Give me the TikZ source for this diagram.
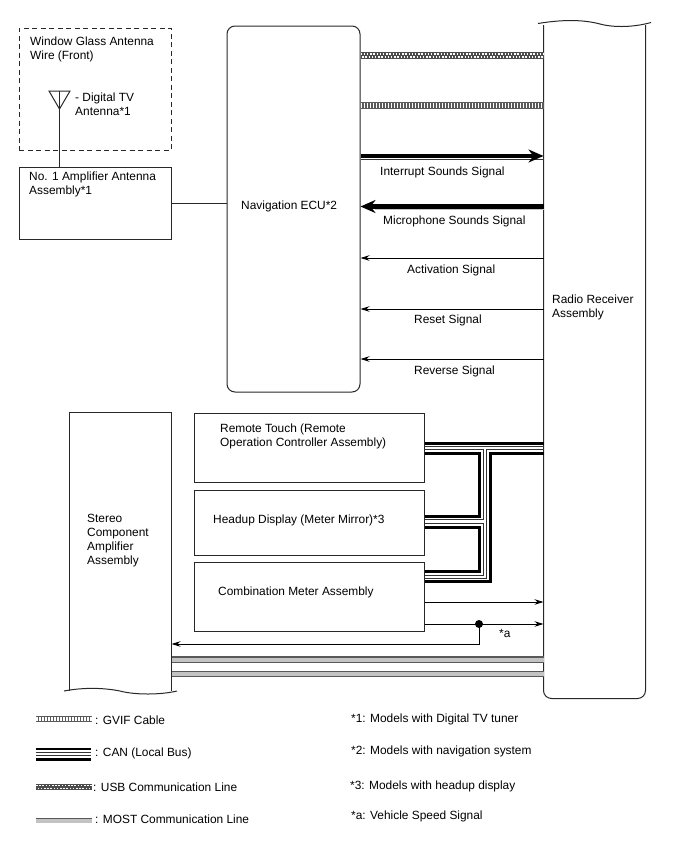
\documentclass[tikz,border=0pt]{standalone}
\usepackage{fontspec}
\setmainfont{Liberation Sans}
\usetikzlibrary{arrows.meta}
\definecolor{linegray}{RGB}{40,40,40}
\definecolor{mostgray}{RGB}{195,195,195}
\tikzset{
  unitbox/.style={
    rectangle, draw=linegray, line width=1pt, inner sep=0pt
  },
  labeltext/.style={
    font=\fontsize{11.9}{14}\selectfont, align=left, anchor=west, inner sep=0pt, yshift=-1.5pt
  },
  thinarrow/.style={
    -{Stealth[length=9pt,width=5.5pt]}, line width=0.9pt, color=black
  },
  thickarrow/.style={
    -{Stealth[length=15pt,width=13pt]}, line width=4.6pt, color=black
  },
  signalline/.style={
    line width=1pt, color=linegray
  },
  canthick/.style={
    line width=3pt, color=black, line join=miter
  },
  canthin/.style={
    line width=0.8pt, color=black!80, line join=miter
  },
  gvifline/.style={
    line width=7pt, color=black!65,
    postaction={draw=white, line width=4.6pt, dash pattern=on 1.5pt off 1.5pt}
  },
  usbline/.style={
    line width=7pt, color=black!70,
    postaction={draw=white, line width=1.5pt, dash pattern=on 1.5pt off 1.7pt, transform canvas={yshift=1.3pt}},
    postaction={draw=white, line width=1.5pt, dash pattern=on 1.5pt off 1.7pt, dash phase=1.6pt, transform canvas={yshift=-1.3pt}}
  },
  mostline/.style={
    line width=6.6pt, color=black!65,
    postaction={draw=mostgray, line width=4pt}
  },
}
\begin{document}
\begin{tikzpicture}[x=1pt, y=-1pt]
  \useasboundingbox (0,0) rectangle (688,852);
  \fill[white] (0,0) rectangle (688,852);

  % units
  \node[unitbox, draw=none, minimum width=101pt, minimum height=676pt] (radio) at (594.5,360) {};
  \draw[unitbox] (538,23.5) .. controls (565,19) and (585,20) .. (600,24) .. controls (615,28) and (635,27) .. (651,22.5);
  \draw[unitbox, rounded corners=8pt] (radio.north west |- 0,25) -- (radio.south west) -- (radio.south east) -- (radio.north east |- 0,25);
  \node[unitbox, rounded corners=8pt, minimum width=133pt, minimum height=366pt] (nav) at (293.5,209) {};
  \node[unitbox, minimum width=152pt, minimum height=72pt] (amp) at (95,203) {};
  \node[unitbox, minimum width=230pt, minimum height=69pt] (remote) at (309,447.5) {};
  \node[unitbox, minimum width=230pt, minimum height=65pt] (headup) at (309,522.5) {};
  \node[unitbox, minimum width=230pt, minimum height=69pt] (meter) at (309,596.5) {};
  \node[unitbox, draw=none, minimum width=101pt, minimum height=277pt] (stereo) at (120.5,551.5) {};
  \draw[unitbox] (stereo.south west |- 0,691) -- (stereo.north west) -- (stereo.north east) -- (stereo.south east |- 0,691);
  \draw[unitbox] (64,691) .. controls (85,687) and (105,688) .. (120,691) .. controls (135,695) and (160,695) .. (177,691);
  \node[draw=linegray, line width=1pt, dash pattern=on 5pt off 3.5pt, rectangle, inner sep=0pt, minimum width=152pt, minimum height=122pt] (glass) at (95,89) {};

  % antenna
  \coordinate (ant) at (59.5,109);
  \draw[signalline] (ant) -- (amp.north -| ant);
  \draw[signalline] (ant) -- (49,91) -- (70,91) -- cycle;
  \draw[signalline] (ant) -- (59.5,91);
  \draw[signalline] (amp.east) -- (nav.west |- amp.east);

  % nav <-> radio
  \draw[usbline] (nav.east |- 0,55.5) -- (radio.west |- 0,55.5);
  \draw[gvifline] (nav.east |- 0,105.5) -- (radio.west |- 0,105.5);
  \draw[canthin] (nav.east |- 0,159.5) -- (radio.west |- 0,159.5);
  \draw[thickarrow] (nav.east |- 0,156) -- (radio.west |- 0,156);
  \draw[mostgray, line width=1.6pt] (nav.east |- 0,209.5) ++(14,0) -- (radio.west |- 0,209.5);
  \draw[thickarrow] (radio.west |- 0,206.5) -- (nav.east |- 0,206.5);
  \draw[thinarrow] (radio.west |- 0,258) -- (nav.east |- 0,258);
  \draw[thinarrow] (radio.west |- 0,309) -- (nav.east |- 0,309);
  \draw[thinarrow] (radio.west |- 0,359) -- (nav.east |- 0,359);

  % local bus
  \draw[canthick] (remote.east |- 0,443) -- (radio.west |- 0,443);
  \draw[canthin] (remote.east |- 0,446.5) -- (radio.west |- 0,446.5);
  \draw[canthin] (remote.east |- 0,449.5) -- (483.5,449.5) -- (483.5,519.5) -- (headup.east |- 0,519.5);
  \draw[canthick] (remote.east |- 0,453) -- (479,453) -- (479,516) -- (headup.east |- 0,516);
  \draw[canthin] (headup.east |- 0,523) -- (483.5,523) -- (483.5,575.5) -- (meter.east |- 0,575.5);
  \draw[canthick] (headup.east |- 0,527.5) -- (479,527.5) -- (479,571) -- (meter.east |- 0,571);
  \draw[canthin] (radio.west |- 0,449.5) -- (486,449.5) -- (486,578) -- (meter.east |- 0,578);
  \draw[canthick] (radio.west |- 0,453) -- (490,453) -- (490,581) -- (meter.east |- 0,581);

  % meter signals
  \draw[thinarrow] (meter.east |- 0,602) -- (radio.west |- 0,602);
  \draw[thinarrow] (meter.east |- 0,624) -- (radio.west |- 0,624);
  \node[circle, fill=black, inner sep=0pt, minimum size=8pt] (speedtap) at (479,624) {};
  \draw[thinarrow] (speedtap.center) -- (479,644) -- (stereo.east |- 0,644);

  % stereo <-> radio
  \draw[mostline] (stereo.east |- 0,659.5) -- (radio.west |- 0,659.5);
  \draw[mostline] (stereo.east |- 0,674) -- (radio.west |- 0,674);

  % texts on units
  \node[labeltext] at (30,48) {Window Glass Antenna\\Wire (Front)};
  \node[labeltext] at (75,103) {- Digital TV\\Antenna*1};
  \node[labeltext] at (29,183) {No. 1 Amplifier Antenna\\Assembly*1};
  \node[labeltext] at (241,205) {Navigation ECU*2};
  \node[labeltext] at (552,306) {Radio Receiver\\Assembly};
  \node[labeltext] at (220,435) {Remote Touch (Remote\\Operation Controller Assembly)};
  \node[labeltext] at (213,519) {Headup Display (Meter Mirror)*3};
  \node[labeltext] at (218,591) {Combination Meter Assembly};
  \node[labeltext] at (87,539) {Stereo\\Component\\Amplifier\\Assembly};

  % texts on signals
  \node[labeltext] at (380,171) {Interrupt Sounds Signal};
  \node[labeltext] at (383,220) {Microphone Sounds Signal};
  \node[labeltext] at (407,269) {Activation Signal};
  \node[labeltext] at (414,319) {Reset Signal};
  \node[labeltext] at (414,370) {Reverse Signal};
  \node[labeltext] at (499,632) {*a};

  % legend
  \node[labeltext] (gvifkey) at (95,719) {: GVIF Cable};
  \node[labeltext] (cankey) at (95,752) {: CAN (Local Bus)};
  \node[labeltext] (usbkey) at (93,786) {: USB Communication Line};
  \node[labeltext] (mostkey) at (95,818) {: MOST Communication Line};
  \coordinate (keyleft) at (36,0);
  \draw[gvifline, line width=6.4pt] (keyleft |- 0,719) -- ([xshift=-3pt]gvifkey.west |- 0,719);
  \draw[canthick, line width=2.6pt] (keyleft |- 0,749) -- ([xshift=-4pt]cankey.west |- 0,749);
  \draw[canthin] (keyleft |- 0,752.3) -- ([xshift=-4pt]cankey.west |- 0,752.3);
  \draw[canthin] (keyleft |- 0,755.2) -- ([xshift=-4pt]cankey.west |- 0,755.2);
  \draw[canthick, line width=2.6pt] (keyleft |- 0,759.2) -- ([xshift=-4pt]cankey.west |- 0,759.2);
  \draw[usbline, line width=6pt] (keyleft |- 0,787) -- ([xshift=-1pt]usbkey.west |- 0,787);
  \draw[mostline, line width=5.5pt] (keyleft |- 0,820.5) -- ([xshift=-3pt]mostkey.west |- 0,820.5);

  % model notes
  \node[labeltext] at (351,718) {*1: Models with Digital TV tuner};
  \node[labeltext] at (351,750) {*2: Models with navigation system};
  \node[labeltext] at (350,785) {*3: Models with headup display};
  \node[labeltext] at (351,815) {*a: Vehicle Speed Signal};
\end{tikzpicture}
\end{document}
